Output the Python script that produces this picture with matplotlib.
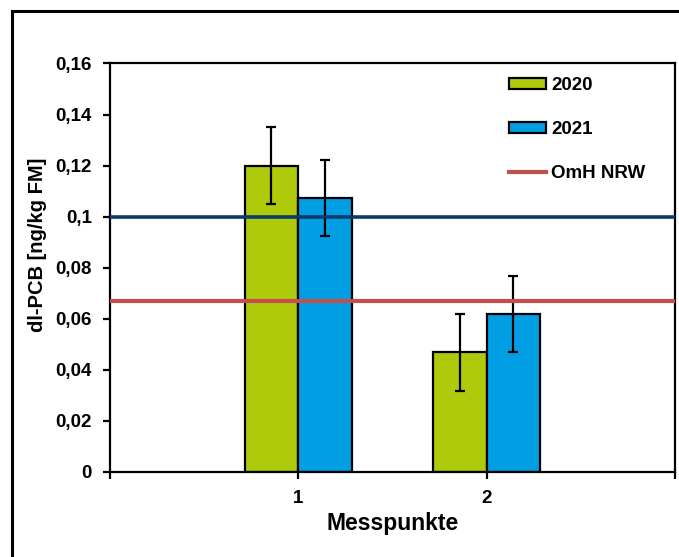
import matplotlib
matplotlib.use('Agg')
import matplotlib.pyplot as plt
import numpy as np
from matplotlib.patches import Rectangle
from matplotlib.ticker import FuncFormatter

plt.rcParams['font.family'] = ['Liberation Sans', 'DejaVu Sans']
plt.rcParams['font.weight'] = 'bold'

# Daten
messpunkte = [1, 2]
werte_2020 = [0.120, 0.0468]
werte_2021 = [0.1073, 0.0618]
fehler_2020 = [0.015, 0.015]
fehler_2021 = [0.015, 0.0148]
omh_nrw = 0.067
grenzwert = 0.1
yticks = [0, 0.02, 0.04, 0.06, 0.08, 0.1, 0.12, 0.14, 0.16]

farbe_2020 = '#afca0b'
farbe_2021 = '#009fe3'

fig = plt.figure(figsize=(6.79, 5.57), dpi=100)
ax = fig.add_axes([0.162, 0.153, 0.832, 0.733])

# Rahmen um die Grafik
fig.patches.append(Rectangle((12 / 679, -0.05), 1.1, 1 - 11 / 557 + 0.05,
                             transform=fig.transFigure, fill=False,
                             edgecolor='black', linewidth=2.2))

x = np.array(messpunkte)
w = 0.285
err_kw = dict(ecolor='black', elinewidth=1.6, capsize=3.5, capthick=1.6)
ax.bar(x - w / 2, werte_2020, w, yerr=fehler_2020, color=farbe_2020,
       edgecolor='black', linewidth=1.6, label='2020', error_kw=err_kw, zorder=2)
ax.bar(x + w / 2, werte_2021, w, yerr=fehler_2021, color=farbe_2021,
       edgecolor='black', linewidth=1.6, label='2021', error_kw=err_kw, zorder=2)

ax.axhline(grenzwert, color='#0b3a6c', linewidth=2.6, zorder=3)
ax.axhline(omh_nrw, color='#c0504d', linewidth=3.0, label='OmH NRW', zorder=3)

ax.set_xlim(0, 3)
ax.set_ylim(0, 0.16)
ax.set_yticks(yticks)
ax.yaxis.set_major_formatter(FuncFormatter(lambda v, p: ('%g' % round(v, 2)).replace('.', ',')))
ax.set_xticks([0, 1, 2, 3])
ax.set_xticklabels(['', '1', '2', ''])
ax.tick_params(axis='both', direction='out', length=5, width=1.6,
               labelsize=13.5)
ax.tick_params(axis='y', pad=8)
ax.tick_params(axis='x', pad=8)

for s in ax.spines.values():
    s.set_linewidth(1.6)

ax.set_xlabel('Messpunkte', fontsize=16.5, fontweight='bold', labelpad=4)
ax.set_ylabel('dl-PCB [ng/kg FM]', fontsize=14.5, fontweight='bold')
ax.yaxis.set_label_coords(-0.112, 0.556)

handles, labels = ax.get_legend_handles_labels()
order = [1, 2, 0]
leg = ax.legend([handles[i] for i in order], [labels[i] for i in order],
                loc='upper left', bbox_to_anchor=(0.690, 0.99), frameon=False,
                fontsize=13.5, borderpad=0, handlelength=1.95, handleheight=0.55,
                labelspacing=1.45, handletextpad=0.3)

fig.savefig('out.png', dpi=100)
